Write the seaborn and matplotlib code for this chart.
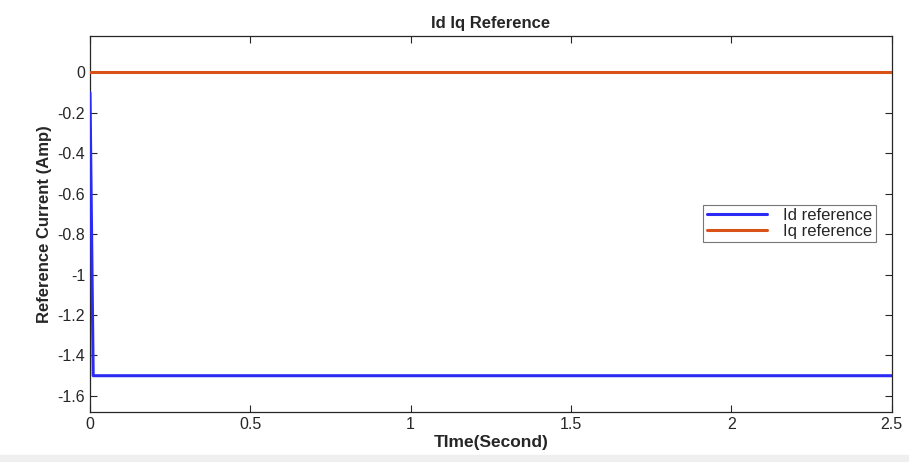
import numpy as np
import pandas as pd
import matplotlib
matplotlib.use('Agg')
import matplotlib.pyplot as plt
import seaborn as sns

# Simulation samples
time_s = [0.0, 0.01, 2.5]
id_ref = [-0.1, -1.5, -1.5]
iq_ref = [0.0, 0.0, 0.0]

df = pd.DataFrame({
    'time': time_s * 2,
    'current': id_ref + iq_ref,
    'signal': ['Id reference'] * 3 + ['Iq reference'] * 3,
})

sns.set_style('ticks')
plt.rcParams['font.family'] = ['Liberation Sans', 'DejaVu Sans']

fig = plt.figure(figsize=(9.09, 4.62), dpi=100)
fig.patches.append(plt.Rectangle((0, 0), 1, 0.015, transform=fig.transFigure,
                                 color='#efefef', zorder=0))
ax = fig.add_axes([0.099, 0.108, 0.882, 0.814])

sns.lineplot(data=df, x='time', y='current', hue='signal',
             palette=['#2b2bf5', '#d95319'], linewidth=2.2, ax=ax, zorder=3)

ax.set_xlim(0, 2.5)
ax.set_ylim(-1.68, 0.18)
ax.set_xticks([0, 0.5, 1, 1.5, 2, 2.5])
ax.set_xticklabels(['0', '0.5', '1', '1.5', '2', '2.5'])
ax.set_yticks(np.round(np.arange(-1.6, 0.01, 0.2), 1))
ax.set_yticklabels(['-1.6', '-1.4', '-1.2', '-1', '-0.8', '-0.6', '-0.4', '-0.2', '0'])
ax.tick_params(direction='in', top=True, right=True, labelsize=11.5, length=5, width=0.8)
for s in ax.spines.values():
    s.set_visible(True)
    s.set_linewidth(0.9)
    s.set_color('#262626')

ax.set_title('Id Iq Reference', fontsize=12, fontweight='bold', pad=6)
ax.set_xlabel('TIme(Second)', fontsize=12.5, fontweight='bold', labelpad=2)
ax.set_ylabel('Reference Current (Amp)', fontsize=12, fontweight='bold', labelpad=4)

leg = ax.legend(loc='upper left', bbox_to_anchor=(0.765, 0.552), fontsize=12,
                frameon=True, fancybox=False, edgecolor='#555555', borderaxespad=0,
                handlelength=3.6, borderpad=0.2, labelspacing=0.05, handletextpad=1.0)
leg.get_frame().set_linewidth(0.8)

fig.savefig('out.png', dpi=100)
